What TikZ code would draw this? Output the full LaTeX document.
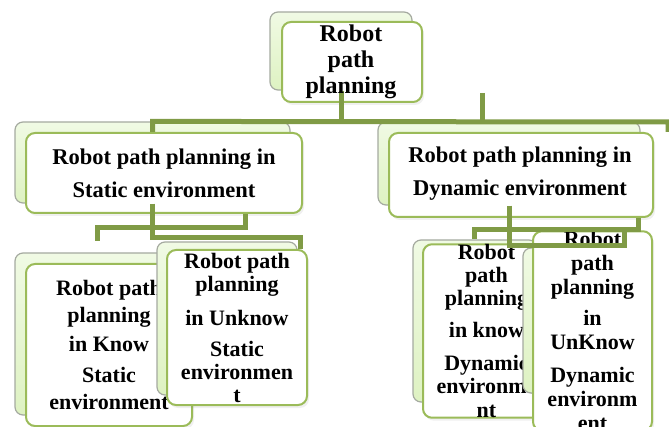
\documentclass[tikz,border=0pt]{standalone}
\usepackage{fontspec}
\setmainfont{Liberation Serif}
\usetikzlibrary{shadows}

\definecolor{boxline}{RGB}{155,187,89}
\definecolor{linkline}{RGB}{128,155,70}
\definecolor{backtop}{RGB}{240,250,228}
\definecolor{backbot}{RGB}{222,242,194}
\definecolor{backline}{RGB}{165,170,160}

\begin{document}
\begin{tikzpicture}[x=1pt,y=-1pt,
  backbox/.style={draw=backline,line width=1.2pt,rounded corners=8pt,top color=backtop,bottom color=backbot,inner sep=0pt},
  frontbox/.style={draw=boxline,line width=2pt,rounded corners=9pt,fill=white,drop shadow={opacity=0.12,shadow xshift=2pt,shadow yshift=-3pt},inner sep=0pt,align=center},
  link/.style={draw=linkline,line width=5pt},
  caption/.style={align=center,inner sep=0pt}]

\useasboundingbox (0,0) rectangle (669,427);

\node[backbox,minimum width=142pt,minimum height=78pt] (rootback) at (341,51) {};
\node[frontbox,minimum width=140pt,minimum height=80pt] (root) at (352,62) {};

\node[backbox,minimum width=275pt,minimum height=81pt] (staticback) at (152.5,162.5) {};
\node[frontbox,minimum width=276pt,minimum height=80pt] (static) at (164,173) {};
\node[backbox,minimum width=262pt,minimum height=83pt] (dynamicback) at (509,163.5) {};
\node[frontbox,minimum width=264pt,minimum height=84pt] (dynamic) at (521,175) {};

\node[backbox,minimum width=165pt,minimum height=162pt] (knownstaticback) at (97.5,334) {};
\node[frontbox,minimum width=166pt,minimum height=162pt,font=\bfseries\fontsize{22}{27}\selectfont] (knownstatic) at (109,345)
  {Robot path\\planning\\[2pt]in Know\\[4pt]Static\\environment};
\node[backbox,minimum width=140pt,minimum height=153pt] (unknownstaticback) at (227,318.5) {};
\node[frontbox,minimum width=140pt,minimum height=155pt,font=\bfseries\fontsize{22}{23}\selectfont] (unknownstatic) at (237,327.5)
  {Robot path\\planning\\[11pt]in Unknow\\[8pt]Static\\environmen\\t};
\node[backbox,minimum width=124pt,minimum height=162pt] (knowndynamicback) at (475,321) {};
\node[frontbox,minimum width=127pt,minimum height=164pt,font=\bfseries\fontsize{22}{23}\selectfont] (knowndynamic) at (486.5,331)
  {Robot\\path\\planning\\[9pt]in know\\[10pt]Dynamic\\environme\\[1pt]nt};
\node[backbox,minimum width=119pt,minimum height=145pt] (unknowndynamicback) at (582.5,320.5) {};
\node[frontbox,minimum width=119pt,minimum height=152pt,font=\bfseries\fontsize{22}{24}\selectfont] (unknowndynamic) at (592.5,331)
  {Robot\\path\\planning\\[7pt]in\\UnKnow\\[9pt]Dynamic\\environm\\ent};

% connectors
\coordinate (busend) at (668,122);
\coordinate (riser) at (482,93);
\draw[link] (rootback.south) -- (rootback.south |- staticback.north);
\draw[link] (riser) -- (riser |- staticback.north);
\draw[link] (static.north -| staticback.north) -- (staticback.north) -- (busend) -- (busend |- dynamic.north);

\coordinate (sa) at (300,238);
\coordinate (sb) at (245,228);
\coordinate (sc) at (97,228);
\draw[link] (staticback.south) |- (sa) -- (sa |- unknownstatic.north);
\draw[link] (static.south -| sb) -- (sb) -- (sc) -- (sc |- unknownstaticback.north);

\coordinate (da) at (624,246);
\coordinate (db) at (638,230);
\coordinate (dc) at (474,230);
\draw[link] (dynamicback.south) |- (da) -- (da |- unknowndynamic.north);
\draw[link] (dynamic.south -| db) -- (db) -- (dc) -- (dc |- knowndynamicback.north);

\node[caption,font=\bfseries\fontsize{24}{26}\selectfont] (roottext) at (351,62) {Robot\\path\\planning};
\node[caption,font=\bfseries\fontsize{22.5}{33}\selectfont] (statictext) at (164,173.5) {Robot path planning in\\Static environment};
\node[caption,font=\bfseries\fontsize{22.5}{33}\selectfont] (dynamictext) at (520,174) {Robot path planning in\\Dynamic environment};
\end{tikzpicture}
\end{document}
